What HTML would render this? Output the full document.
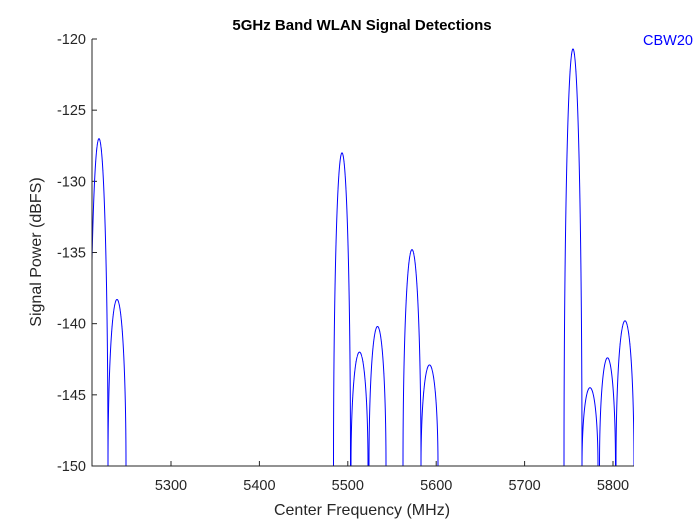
<!DOCTYPE html>
<html><head><style>
body{margin:0;background:#fff;}
svg{display:block;font-family:"Liberation Sans",Arial,sans-serif;}
</style></head><body>
<svg id="s" width="700" height="525" viewBox="0 0 700 525">
<rect width="700" height="525" fill="#fff"/>
<text x="362" y="30" text-anchor="middle" font-size="15" font-weight="bold" fill="#000">5GHz Band WLAN Signal Detections</text>
<g id="ticks" stroke="#262626" stroke-width="1"></g>
<g id="lbl" font-size="14.5" fill="#262626"></g>
<clipPath id="c"><rect x="92" y="30" width="542" height="436.5"/></clipPath>
<g id="curves" clip-path="url(#c)" fill="none" stroke="#0000ff" stroke-width="1"></g>
<line x1="92" y1="39" x2="92" y2="466.5" stroke="#262626"/>
<line x1="91.5" y1="466" x2="634" y2="466" stroke="#262626"/>
<text x="362" y="515" text-anchor="middle" font-size="16" fill="#262626">Center Frequency (MHz)</text>
<text transform="translate(41,252) rotate(-90)" text-anchor="middle" font-size="16" fill="#262626">Signal Power (dBFS)</text>
<text x="693" y="45" text-anchor="end" font-size="14.5" fill="#0000ff">CBW20</text>
</svg>
<script>
var ns="http://www.w3.org/2000/svg";
function el(p,t,a,txt){var e=document.createElementNS(ns,t);for(var k in a)e.setAttribute(k,a[k]);if(txt)e.textContent=txt;document.getElementById(p).appendChild(e);}
function Y(v){return 466-(v+150)*427/30;}
for(var v=-150;v<=-120;v+=5){var y=Y(v);el("ticks","line",{x1:92,y1:y,x2:97,y2:y});el("lbl","text",{x:86,y:y+5,"text-anchor":"end"},String(v));}
for(var f=5300;f<=5800;f+=100){var x=171+(f-5300)*0.884;el("ticks","line",{x1:x,y1:466,x2:x,y2:461});el("lbl","text",{x:x,y:490,"text-anchor":"middle"},String(f));}
var L=[[99,-127,9],[117,-138.3,9],[342,-128,8.5],[359.5,-142,8.5],[377.5,-140.2,8.5],[412,-134.8,9],[429.5,-142.9,8.5],[573,-120.7,9],[590,-144.5,8],[607.5,-142.4,8],[625,-139.8,9]];
L.forEach(function(l){var d="";var H=l[1]+150;for(var i=-400;i<=400;i++){var u=i/400;var db=l[1]-H*(1-Math.sqrt(Math.max(0,1-u*u)));var x=l[0]+u*l[2];d+=(d?"L":"M")+x.toFixed(2)+" "+Y(db).toFixed(2);}el("curves","path",{d:d});});
</script>
</body></html>
